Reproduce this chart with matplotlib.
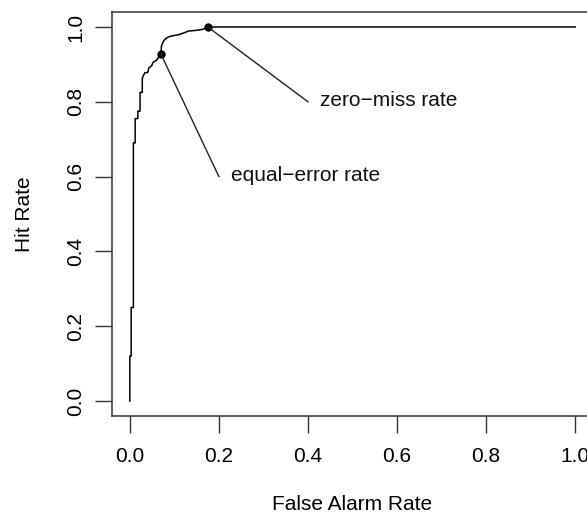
import numpy as np
import matplotlib
matplotlib.use("Agg")
import matplotlib.pyplot as plt

plt.rcParams['font.family'] = ['Liberation Sans', 'DejaVu Sans']

# ROC curve vertices
fpr = [0.0, 0.0, 0.003, 0.003, 0.008, 0.008, 0.012, 0.012, 0.018, 0.018,
       0.023, 0.023, 0.028, 0.028, 0.030, 0.034, 0.040, 0.043, 0.049, 0.052,
       0.060, 0.064, 0.070, 0.071, 0.075, 0.079, 0.086, 0.094, 0.109, 0.116,
       0.124, 0.131, 0.150, 0.165, 0.175, 1.0]
tpr = [0.0, 0.12, 0.12, 0.25, 0.25, 0.69, 0.69, 0.755, 0.755, 0.775,
       0.775, 0.825, 0.825, 0.862, 0.869, 0.878, 0.878, 0.891, 0.896, 0.905,
       0.911, 0.918, 0.927, 0.949, 0.961, 0.967, 0.973, 0.976, 0.979, 0.982,
       0.985, 0.989, 0.991, 0.994, 1.0, 1.0]

# marked points and their labels
pt_x = [0.07, 0.175]
pt_y = [0.927, 1.0]
lab_x = [0.20, 0.40]
lab_y = [0.60, 0.80]
labels = ["equal\u2212error rate", "zero\u2212miss rate"]

ticks = [0.0, 0.2, 0.4, 0.6, 0.8, 1.0]

fig = plt.figure(figsize=(5.87, 5.16), dpi=100)
ax = fig.add_axes([112 / 587, 100 / 516, 481 / 587, 404 / 516])

ax.plot(fpr, tpr, color='black', lw=1.1)
ax.plot(pt_x, pt_y, 'o', color='black', ms=5)
for i in range(len(labels)):
    ax.plot([pt_x[i], lab_x[i]], [pt_y[i], lab_y[i]], color='#222222', lw=1.0)
    ax.text(lab_x[i] + 0.028, lab_y[i] + 0.004, labels[i], fontsize=15,
            ha='left', va='center', color='#111111')

ax.set_xlim(-0.04, 1.04)
ax.set_ylim(-0.04, 1.04)
ax.set_xticks(ticks)
ax.set_yticks(ticks)
ax.set_xticklabels(["%.1f" % t for t in ticks])
ax.set_yticklabels(["%.1f" % t for t in ticks], rotation=90, va='center')
ax.tick_params(length=12, width=1, pad=10.5, labelsize=15, color='#333333')
ax.tick_params(axis='y', pad=7)

for s in ax.spines.values():
    s.set_linewidth(1.1)
    s.set_color('#333333')

ax.set_xlabel("False Alarm Rate", fontsize=15, va='center')
ax.xaxis.set_label_coords(0.5, -(505 - 416) / 404)
ax.set_ylabel("Hit Rate", fontsize=15, va='center', ha='center')
ax.yaxis.set_label_coords((25 - 112) / 481, 0.5)

fig.savefig("out.png", dpi=100)
